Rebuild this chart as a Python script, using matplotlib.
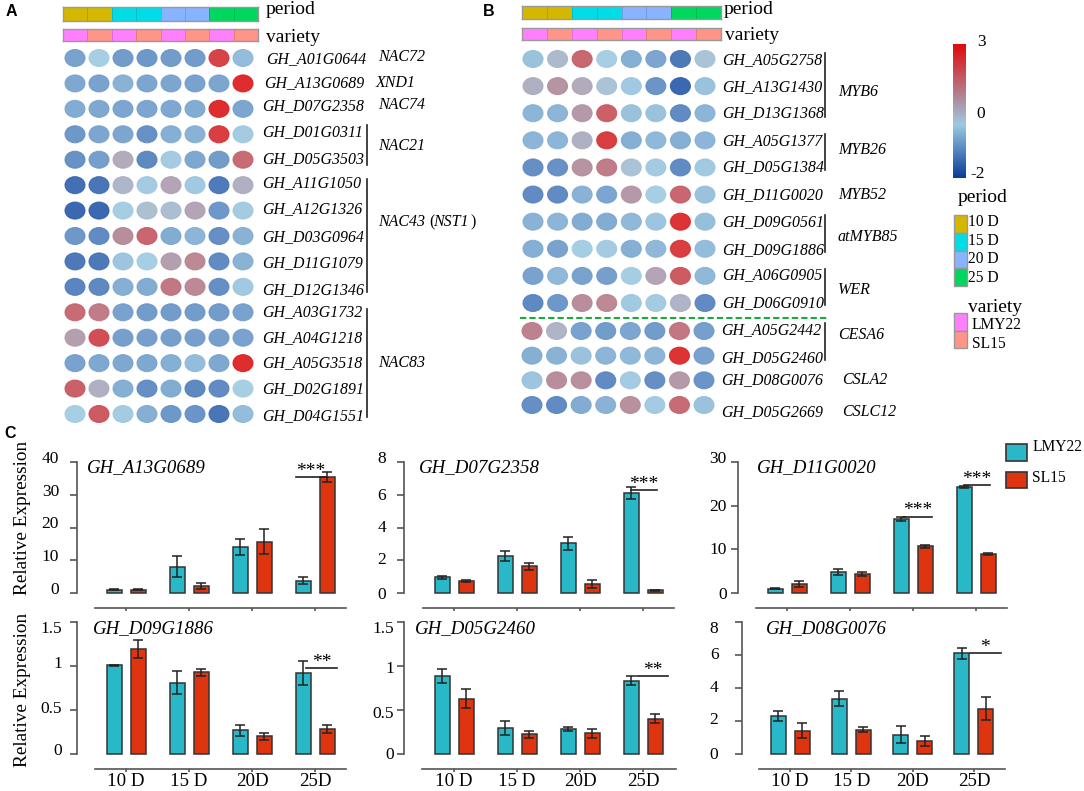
import numpy as np
import matplotlib
matplotlib.use("Agg")
import matplotlib.pyplot as plt
from matplotlib.colors import LinearSegmentedColormap, ListedColormap
from matplotlib.patches import Ellipse, Rectangle
from matplotlib.transforms import ScaledTranslation

plt.rcParams['font.family'] = ['Liberation Serif', 'DejaVu Serif']

W, H = 1084, 791

# heatmap A
genes_a = ["GH_A01G0644", "GH_A13G0689", "GH_D07G2358", "GH_D01G0311", "GH_D05G3503",
           "GH_A11G1050", "GH_A12G1326", "GH_D03G0964", "GH_D11G1079", "GH_D12G1346",
           "GH_A03G1732", "GH_A04G1218", "GH_A05G3518", "GH_D02G1891", "GH_D04G1551"]
heat_a = [
    [-0.7, 0.0, -0.8, -0.85, -0.8, -0.8, 2.4, -0.3],
    [-0.6, -0.7, -0.45, -0.65, -0.65, -0.7, -0.65, 2.8],
    [-0.55, -0.6, -0.65, -0.65, -0.6, -0.55, 2.8, -0.65],
    [-0.85, -0.65, -0.65, -0.95, -0.5, -0.45, 2.5, -0.05],
    [-0.95, -0.75, 0.6, -1.1, -0.05, -0.6, -0.8, 1.7],
    [-1.5, -1.4, 0.4, -0.05, 0.7, -0.1, -1.3, 0.5],
    [-1.6, -1.6, -0.02, 0.25, 0.3, 0.7, -0.85, -0.05],
    [-0.85, -1.05, 1.1, 1.8, -0.55, -0.4, -1.0, -0.45],
    [-1.35, -1.35, -0.15, 0.0, 0.8, 1.2, -1.05, -0.45],
    [-1.15, -1.1, -0.5, -0.55, 1.5, 1.2, -1.0, -0.1],
    [1.7, 1.4, -0.7, -0.8, -0.8, -0.8, -0.8, -0.7],
    [0.8, 2.2, -0.75, -0.75, -0.75, -0.75, -0.75, -0.7],
    [-0.7, -0.6, -0.6, -0.6, -0.5, -0.3, -0.6, 2.8],
    [1.9, 0.5, -0.5, -1.0, -0.55, -1.1, -1.05, 0.0],
    [0.0, 2.0, -0.05, -0.5, -0.85, -0.9, -1.4, -0.3],
]

# heatmap B, upper block
genes_b1 = ["GH_A05G2758", "GH_A13G1430", "GH_D13G1368", "GH_A05G1377", "GH_D05G1384",
            "GH_D11G0020", "GH_D09G0561", "GH_D09G1886", "GH_A06G0905", "GH_D06G0910"]
heat_b1 = [
    [-0.2, 0.35, 1.75, 0.0, -0.5, -0.65, -1.35, 0.2],
    [0.5, 1.0, 0.6, 0.2, -0.1, -0.9, -1.6, -0.2],
    [-0.4, -0.4, 0.9, 1.9, -0.2, -0.2, -1.05, -0.4],
    [-0.4, -0.4, 0.5, 2.5, -0.5, -0.35, -0.5, -0.4],
    [-1.0, -0.95, 1.0, 1.4, 0.2, -0.05, -1.05, -0.1],
    [-1.05, -1.05, -0.45, -0.65, 0.9, 0.0, 1.8, -0.2],
    [-0.45, -0.4, -0.55, -0.55, -0.35, -0.15, 2.7, -0.25],
    [-0.5, -0.7, -0.02, -0.05, -0.5, -0.35, 2.5, -0.3],
    [-0.7, -0.35, -0.7, -0.75, -0.02, 0.7, 2.0, -0.35],
    [-1.1, -0.85, 1.1, 1.2, -0.1, -0.05, 0.45, -1.05],
]

# heatmap B, lower block
genes_b2 = ["GH_A05G2442", "GH_D05G2460", "GH_D08G0076", "GH_D05G2669"]
heat_b2 = [
    [1.3, 0.45, -0.7, -0.8, -0.65, -0.8, 1.5, -0.75],
    [-0.5, -0.45, -0.2, -0.4, -0.35, -0.4, 2.7, -0.7],
    [-0.15, 1.1, 1.05, -1.05, -0.05, -1.0, 0.9, -0.9],
    [-1.0, -1.05, -0.55, -0.45, 1.05, -0.05, 1.7, -0.2],
]

period_codes = [0, 0, 1, 1, 2, 2, 3, 3]
variety_codes = [0, 1, 0, 1, 0, 1, 0, 1]
period_names = ["10 D", "15 D", "20 D", "25 D"]
variety_names = ["LMY22", "SL15"]
period_colors = ["#d4b800", "#00dde6", "#88b4ff", "#00d75f"]
variety_colors = ["#ff80ff", "#ff9488"]

# bar panels
stages = ["10 D", "15 D", "20D", "25D"]
lmy_a13 = [1.0, 8.0, 14.0, 3.7]
lmy_a13_err = [0.2, 3.2, 2.5, 1.1]
sl_a13 = [1.0, 2.2, 15.7, 35.5]
sl_a13_err = [0.2, 1.0, 3.7, 1.5]

lmy_d07 = [0.95, 2.25, 3.05, 6.1]
lmy_d07_err = [0.08, 0.3, 0.4, 0.35]
sl_d07 = [0.73, 1.62, 0.53, 0.18]
sl_d07_err = [0.06, 0.22, 0.24, 0.03]

lmy_d11 = [1.0, 4.8, 16.9, 24.3]
lmy_d11_err = [0.1, 0.6, 0.4, 0.2]
sl_d11 = [2.0, 4.3, 10.7, 8.9]
sl_d11_err = [0.7, 0.4, 0.3, 0.3]

lmy_d09 = [1.01, 0.81, 0.27, 0.92]
lmy_d09_err = [0.005, 0.13, 0.06, 0.14]
sl_d09 = [1.19, 0.93, 0.2, 0.285]
sl_d09_err = [0.1, 0.04, 0.04, 0.045]

lmy_d05 = [0.89, 0.30, 0.285, 0.835]
lmy_d05_err = [0.08, 0.08, 0.025, 0.05]
sl_d05 = [0.63, 0.225, 0.235, 0.40]
sl_d05_err = [0.11, 0.04, 0.05, 0.05]

lmy_d08 = [2.3, 3.35, 1.17, 6.1]
lmy_d08_err = [0.3, 0.47, 0.5, 0.33]
sl_d08 = [1.42, 1.48, 0.77, 2.75]
sl_d08_err = [0.47, 0.15, 0.3, 0.7]

cmap = LinearSegmentedColormap.from_list(
    "expr", [(0, "#0a3c9c"), (0.4, "#9ecae1"), (0.6, "#b08898"), (1, "#e00a0a")])
CYAN = "#28b8c8"
RED = "#de3410"


def px_axes(x0, y0, x1, y1):
    # axes from pixel box, y measured from the top of the image
    return fig.add_axes([x0 / W, 1 - y1 / H, (x1 - x0) / W, (y1 - y0) / H])


def heat_dots(values, x0, x1, y0, y1, dot_w=20, dot_h=17):
    # x0/x1 centres of first/last column, y0/y1 centres of first/last row
    values = np.array(values)
    nrow, ncol = values.shape
    dx = (x1 - x0) / (ncol - 1)
    dy = (y1 - y0) / (nrow - 1)
    ax = px_axes(x0 - dx / 2, y0 - dy / 2, x1 + dx / 2, y1 + dy / 2)
    ax.set_xlim(-0.5, ncol - 0.5)
    ax.set_ylim(nrow - 0.5, -0.5)
    ax.axis("off")
    for r in range(nrow):
        for c in range(ncol):
            col = cmap((values[r, c] + 2) / 5)
            ax.add_patch(Ellipse((c, r), dot_w / dx, dot_h / dy, facecolor=col[:3] + (0.9,),
                                 edgecolor=col[:3] + (0.8,), lw=0.8))


def strip(codes, colors, x0, x1, y0, y1):
    ax = px_axes(x0, y0, x1, y1)
    ax.pcolormesh(np.array([codes]), cmap=ListedColormap(colors), vmin=0, vmax=len(colors) - 1,
                  edgecolors="#00000022", linewidth=0.5)
    ax.set_xticks([])
    ax.set_yticks([])
    for s in ax.spines.values():
        s.set_color("#999999")
        s.set_linewidth(1)


def bar_panel(lmy, lmy_err, sl, sl_err, yx, first_tick, step, line_x0, line_x1, y0, ytop, ymax,
              yticks, ylabels, label_shift, ypad, gene, gene_x, gene_y, sig, show_x):
    ax = px_axes(yx, ytop, line_x1, y0)
    ax.patch.set_alpha(0)
    ax.set_xlim((yx - first_tick) / step, (line_x1 - first_tick) / step)
    ax.set_ylim(0, ymax)
    pos = np.arange(4)
    off = 12 / step
    wid = 15 / step
    err_kw = dict(ecolor="#222222", elinewidth=1.1, capsize=3.5, capthick=1.1)
    ax.bar(pos - off, lmy, wid, yerr=lmy_err, color=CYAN, edgecolor="#333333", linewidth=1.1,
           error_kw=err_kw, clip_on=False)
    ax.bar(pos + off, sl, wid, yerr=sl_err, color=RED, edgecolor="#333333", linewidth=1.1,
           error_kw=err_kw, clip_on=False)
    for s in ["top", "right"]:
        ax.spines[s].set_visible(False)
    ax.spines["left"].set_color("#555555")
    ax.spines["left"].set_linewidth(1.2)
    ax.spines["bottom"].set_color("#555555")
    ax.spines["bottom"].set_linewidth(1.2)
    ax.spines["bottom"].set_position(("outward", 11))
    ax.spines["bottom"].set_bounds((line_x0 - first_tick) / step, (line_x1 - first_tick) / step)
    ax.set_xticks(pos)
    ax.set_xticklabels(stages if show_x else [""] * 4, fontsize=13.6)
    ax.tick_params(axis="x", length=2.5, width=1.2, color="#555555", pad=0)
    ax.set_yticks(yticks)
    ax.set_yticklabels(ylabels, fontsize=12.5)
    ax.tick_params(axis="y", length=5, width=1.2, color="#555555", pad=ypad)
    # labels sit a few pixels off their ticks in the original
    for t, shift in zip(ax.get_yticklabels(), label_shift):
        t.set_transform(t.get_transform() + ScaledTranslation(0, shift * 0.72 / 72, fig.dpi_scale_trans))
    over.text(gene_x, gene_y, gene, style="italic", fontsize=13.6, va="center")
    for group, a, b, level, stars in sig:
        ax.plot([group + a, group + b], [level, level], color="#222222", lw=1.2, clip_on=False)
        ax.annotate(stars, ((group + a + group + b) / 2, level), xytext=(0, -2),
                    textcoords="offset points", ha="center", va="bottom", fontsize=14,
                    annotation_clip=False)


fig = plt.figure(figsize=(W / 100, H / 100), dpi=100)

# overlay in image pixels for labels and brackets
over = fig.add_axes([0, 0, 1, 1], zorder=5)
over.set_xlim(0, W)
over.set_ylim(H, 0)
over.axis("off")
over.patch.set_alpha(0)

for letter, lx, ly in [("A", 11, 12), ("B", 489, 12), ("C", 10, 433)]:
    over.text(lx, ly, letter, family="Liberation Sans", weight="bold", fontsize=11.5, ha="center", va="center")

GENE_FS = 11.4
FAM_FS = 11.5

# panel A
strip(period_codes, period_colors, 63, 258, 7, 21)
strip(variety_codes, variety_colors, 63, 258, 29, 41)
heat_dots(heat_a, 75, 243, 58, 414)
over.text(266, 9, "period", fontsize=14, va="center")
over.text(266, 37, "variety", fontsize=14, va="center")
y_a = [59, 83, 106, 132, 159, 183, 209, 237, 263, 290, 312, 338, 363, 389, 416]
x_a = [266, 264] + [262] * 13
for name, gx, gy in zip(genes_a, x_a, y_a):
    over.text(gx, gy, name, style="italic", fontsize=GENE_FS, va="center")
for fam, fx, fy in [("NAC72", 378, 57), ("XND1", 376, 83), ("NAC74", 378, 105), ("NAC21", 378, 146),
                    ("NAC43", 378, 222), ("NST1", 433, 222), ("NAC83", 378, 363)]:
    over.text(fx, fy, fam, style="italic", fontsize=FAM_FS, va="center")
over.text(429, 222, "(", fontsize=FAM_FS, va="center")
over.text(470, 222, ")", fontsize=FAM_FS, va="center")
for ya, yb in [(125, 165), (179, 292), (309, 417)]:
    over.plot([367, 367], [ya, yb], color="#222222", lw=1.2)

# panel B
strip(period_codes, period_colors, 522, 721, 6, 19)
strip(variety_codes, variety_colors, 522, 721, 28, 40)
heat_dots(heat_b1, 533, 705, 59, 303)
heat_dots(heat_b2, 532, 704, 331, 405)
over.text(724, 9, "period", fontsize=14, va="center")
over.text(725, 35, "variety", fontsize=14, va="center")
y_b = [60, 87, 113, 141, 167, 195, 222, 250, 275, 303]
for name, gy in zip(genes_b1, y_b):
    over.text(722, gy, name, style="italic", fontsize=GENE_FS, va="center")
for name, gy in zip(genes_b2, [330, 358, 380, 412]):
    over.text(721, gy, name, style="italic", fontsize=GENE_FS, va="center")
for fam, fx, fy in [("MYB6", 838, 92), ("MYB26", 838, 150), ("MYB52", 838, 195), ("atMYB85", 838, 237),
                    ("WER", 838, 290), ("CESA6", 838, 335), ("CSLA2", 842, 380), ("CSLC12", 842, 412)]:
    over.text(fx, fy, fam, style="italic", fontsize=FAM_FS, va="center")
for ya, yb in [(53, 117), (134, 170), (215, 252), (269, 305), (323, 360)]:
    over.plot([825, 825], [ya, yb], color="#222222", lw=1.2)
over.plot([520, 829], [318, 318], color="#1aaa3a", lw=1.5, dashes=(3, 1.5))

# colour scale
cax = px_axes(953, 44, 966, 178)
cax.imshow(np.linspace(3, -2, 200)[:, None], cmap=cmap, vmin=-2, vmax=3, aspect="auto")
cax.axis("off")
over.text(981, 42, "3", fontsize=12.5, ha="center", va="center")
over.text(981, 114, "0", fontsize=12.5, ha="center", va="center")
over.text(978, 174, "-2", fontsize=12.5, ha="center", va="center")

# heatmap legends
over.text(983, 198, "period", fontsize=14, ha="center", va="center")
for i, (name, col) in enumerate(zip(period_names, period_colors)):
    over.add_patch(Rectangle((954, 215 + 17.75 * i), 12.5, 17.75, facecolor=col, edgecolor="#999999", lw=1))
    over.text(968, 222 + 18.7 * i, name, fontsize=11.2, va="center")
over.text(968, 307, "variety", fontsize=14, va="center")
for i, (name, col) in enumerate(zip(variety_names, variety_colors)):
    over.add_patch(Rectangle((954, 313 + 17.5 * i), 12.5, 17.5, facecolor=col, edgecolor="#999999", lw=1))
    over.text(972, 325 + 19 * i, name, fontsize=11.2, va="center")

# panel C
bar_panel(lmy_a13, lmy_a13_err, sl_a13, sl_a13_err, 77, 126, 63, 95, 346, 593, 462, 40,
          [0, 10, 20, 30, 40], ["0", "10", "20", "30", "40"], [5, 5, 5, 5, 5], 8, "GH_A13G0689", 87, 468,
          [(3, -0.30, 0.17, 35.5, "***")], False)
bar_panel(lmy_d07, lmy_d07_err, sl_d07, sl_d07_err, 404, 454, 63, 423, 674, 593, 462, 8,
          [0, 2, 4, 6, 8], ["0", "2", "4", "6", "8"], [0, 2, 1, 1, 5], 8, "GH_D07G2358", 419, 468,
          [(3, -0.19, 0.22, 6.27, "***")], False)
bar_panel(lmy_d11, lmy_d11_err, sl_d11, sl_d11_err, 738, 787, 63, 756, 1007, 593, 462, 30,
          [0, 10, 20, 30], ["0", "10", "20", "30"], [0, 1, 1, 5], 3, "GH_D11G0020", 757, 468,
          [(2, -0.16, 0.3, 17.5, "***"), (3, -0.19, 0.22, 24.7, "***")], False)
bar_panel(lmy_d09, lmy_d09_err, sl_d09, sl_d09_err, 77, 126, 63, 95, 346, 754, 622, 1.5,
          [0, 0.5, 1, 1.5], ["0", "0.5", "1", "1.5"], [5, 3, 4, -5], 6, "GH_D09G1886", 93, 629,
          [(3, -0.14, 0.35, 0.973, "**")], True)
bar_panel(lmy_d05, lmy_d05_err, sl_d05, sl_d05_err, 404, 454, 63, 422, 676, 754, 622, 1.5,
          [0, 0.5, 1, 1.5], ["0", "0.5", "1", "1.5"], [1, -2, -1, -5], 2, "GH_D05G2460", 415, 629,
          [(3, -0.1, 0.4, 0.886, "**")], True)
bar_panel(lmy_d08, lmy_d08_err, sl_d08, sl_d08_err, 742, 790, 61.3, 759, 1005, 754, 622, 8,
          [0, 2, 4, 6, 8], ["0", "2", "4", "6", "8"], [1, 3, 2, 2, -5], 12, "GH_D08G0076", 766, 629,
          [(3, -0.07, 0.44, 6.12, "*")], True)

over.text(23, 518, "Relative Expression", fontsize=13.9, rotation=90, ha="center", va="center")
over.text(23, 690, "Relative Expression", fontsize=13.9, rotation=90, ha="center", va="center")

over.add_patch(Rectangle((1006, 444), 21, 17, facecolor=CYAN, edgecolor="#333333", lw=1.2))
over.add_patch(Rectangle((1006, 472), 21, 16, facecolor=RED, edgecolor="#333333", lw=1.2))
over.text(1033, 447, "LMY22", fontsize=11.2, va="center")
over.text(1032, 478, "SL15", fontsize=11.2, va="center")

fig.savefig("out.png", dpi=100)
